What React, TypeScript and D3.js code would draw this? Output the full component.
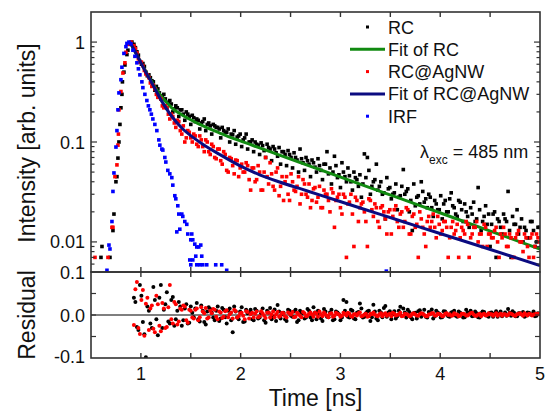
import * as d3 from "d3";
import { useEffect, useRef } from "react";

// time channels (ns), odd and even, shared by decays and residuals
const decayTime = [
	0.93, 0.96, 0.99, 1.02, 1.05, 1.08, 1.11, 1.14, 1.17, 1.2,
	1.23, 1.26, 1.29, 1.32, 1.35, 1.38, 1.41, 1.44, 1.47, 1.5,
	1.53, 1.56, 1.59, 1.62, 1.65, 1.68, 1.71, 1.74, 1.77, 1.8,
	1.83, 1.86, 1.89, 1.92, 1.95, 1.98, 2.01, 2.04, 2.07, 2.1,
	2.13, 2.16, 2.19, 2.22, 2.25, 2.28, 2.31, 2.34, 2.37, 2.4,
	2.43, 2.46, 2.49, 2.52, 2.55, 2.58, 2.61, 2.64, 2.67, 2.7,
	2.73, 2.76, 2.79, 2.82, 2.85, 2.88, 2.91, 2.94, 2.97, 3.0,
	3.03, 3.06, 3.09, 3.12, 3.15, 3.18, 3.21, 3.24, 3.27, 3.3,
	3.33, 3.36, 3.39, 3.42, 3.45, 3.48, 3.51, 3.54, 3.57, 3.6,
	3.63, 3.66, 3.69, 3.72, 3.75, 3.78, 3.81, 3.84, 3.87, 3.9,
	3.93, 3.96, 3.99, 4.02, 4.05, 4.08, 4.11, 4.14, 4.17, 4.2,
	4.23, 4.26, 4.29, 4.32, 4.35, 4.38, 4.41, 4.44, 4.47, 4.5,
	4.53, 4.56, 4.59, 4.62, 4.65, 4.68, 4.71, 4.74, 4.77, 4.8,
	4.83, 4.86, 4.89, 4.92, 4.95, 4.98
];
const decayTimeB = [
	0.945, 0.975, 1.005, 1.035, 1.065, 1.095, 1.125, 1.155, 1.185, 1.215,
	1.245, 1.275, 1.305, 1.335, 1.365, 1.395, 1.425, 1.455, 1.485, 1.515,
	1.545, 1.575, 1.605, 1.635, 1.665, 1.695, 1.725, 1.755, 1.785, 1.815,
	1.845, 1.875, 1.905, 1.935, 1.965, 1.995, 2.025, 2.055, 2.085, 2.115,
	2.145, 2.175, 2.205, 2.235, 2.265, 2.295, 2.325, 2.355, 2.385, 2.415,
	2.445, 2.475, 2.505, 2.535, 2.565, 2.595, 2.625, 2.655, 2.685, 2.715,
	2.745, 2.775, 2.805, 2.835, 2.865, 2.895, 2.925, 2.955, 2.985, 3.015,
	3.045, 3.075, 3.105, 3.135, 3.165, 3.195, 3.225, 3.255, 3.285, 3.315,
	3.345, 3.375, 3.405, 3.435, 3.465, 3.495, 3.525, 3.555, 3.585, 3.615,
	3.645, 3.675, 3.705, 3.735, 3.765, 3.795, 3.825, 3.855, 3.885, 3.915,
	3.945, 3.975, 4.005, 4.035, 4.065, 4.095, 4.125, 4.155, 4.185, 4.215,
	4.245, 4.275, 4.305, 4.335, 4.365, 4.395, 4.425, 4.455, 4.485, 4.515,
	4.545, 4.575, 4.605, 4.635, 4.665, 4.695, 4.725, 4.755, 4.785, 4.815,
	4.845, 4.875, 4.905, 4.935, 4.965, 4.995
];

// RC (black)
const rcRiseTime = [0.6, 0.61, 0.69, 0.72, 0.73, 0.75, 0.76, 0.77, 0.78, 0.79, 0.8, 0.81, 0.815, 0.83, 0.84, 0.86, 0.87, 0.89, 0.91];
const rcRiseValue = [0.007, 0.009, 0.007, 0.013, 0.019, 0.04, 0.045, 0.069, 0.1, 0.15, 0.22, 0.3, 0.4, 0.5, 0.59, 0.75, 0.83, 0.95, 1.0];
const rcValue = [
	0.95, 0.8, 0.64, 0.61, 0.5, 0.47, 0.41, 0.33, 0.34, 0.27,
	0.3, 0.22, 0.26, 0.2, 0.23, 0.18, 0.21, 0.165, 0.19, 0.15,
	0.175, 0.17, 0.135, 0.16, 0.13, 0.155, 0.12, 0.145, 0.14, 0.11,
	0.13, 0.125, 0.1, 0.118, 0.095, 0.115, 0.09, 0.11, 0.085, 0.1,
	0.08, 0.095, 0.075, 0.092, 0.07, 0.088, 0.065, 0.085, 0.072, 0.06,
	0.08, 0.058, 0.075, 0.055, 0.07, 0.05, 0.068, 0.052, 0.065, 0.045,
	0.062, 0.05, 0.058, 0.042, 0.06, 0.048, 0.038, 0.072, 0.044, 0.035,
	0.05, 0.04, 0.046, 0.033, 0.044, 0.036, 0.028, 0.076, 0.07, 0.03,
	0.04, 0.06, 0.036, 0.03, 0.017, 0.034, 0.027, 0.031, 0.021, 0.029,
	0.053, 0.032, 0.02, 0.013, 0.023, 0.029, 0.04, 0.025, 0.022, 0.028,
	0.018, 0.024, 0.021, 0.017, 0.026, 0.02, 0.031, 0.022, 0.018, 0.025,
	0.016, 0.02, 0.014, 0.019, 0.016, 0.035, 0.013, 0.018, 0.015, 0.009,
	0.019, 0.007, 0.016, 0.012, 0.017, 0.032, 0.007, 0.015, 0.021, 0.014,
	0.01, 0.013, 0.011, 0.016, 0.009, 0.014
];
const rcValueB = [
	0.88, 0.74, 0.6, 0.57, 0.46, 0.44, 0.4, 0.36, 0.31, 0.29,
	0.27, 0.25, 0.24, 0.215, 0.22, 0.21, 0.19, 0.2, 0.18, 0.185,
	0.16, 0.165, 0.155, 0.17, 0.15, 0.145, 0.15, 0.14, 0.135, 0.14,
	0.125, 0.135, 0.12, 0.13, 0.112, 0.12, 0.105, 0.12, 0.1, 0.105,
	0.1, 0.093, 0.098, 0.082, 0.095, 0.085, 0.09, 0.078, 0.088, 0.08,
	0.075, 0.082, 0.07, 0.078, 0.066, 0.085, 0.062, 0.07, 0.06, 0.066,
	0.056, 0.068, 0.052, 0.06, 0.08, 0.055, 0.05, 0.058, 0.047, 0.062,
	0.045, 0.055, 0.04, 0.05, 0.042, 0.047, 0.038, 0.044, 0.052, 0.036,
	0.042, 0.033, 0.04, 0.031, 0.044, 0.035, 0.03, 0.038, 0.028, 0.036,
	0.03, 0.034, 0.026, 0.038, 0.028, 0.024, 0.032, 0.027, 0.03, 0.022,
	0.026, 0.021, 0.029, 0.024, 0.02, 0.027, 0.023, 0.019, 0.026, 0.021,
	0.024, 0.018, 0.022, 0.025, 0.017, 0.021, 0.016, 0.023, 0.019, 0.015,
	0.02, 0.017, 0.014, 0.019, 0.016, 0.013, 0.018, 0.015, 0.012, 0.017,
	0.014, 0.011, 0.016, 0.013, 0.01, 0.014
];

// RC@AgNW (red)
const agRiseTime = [0.54, 0.67, 0.71, 0.72, 0.74, 0.76, 0.77, 0.775, 0.78, 0.8, 0.82, 0.84, 0.85, 0.87, 0.9];
const agRiseValue = [0.007, 0.007, 0.014, 0.014, 0.045, 0.059, 0.093, 0.12, 0.21, 0.32, 0.49, 0.62, 0.79, 0.95, 1.0];
const agValue = [
	0.92, 0.78, 0.63, 0.58, 0.48, 0.44, 0.36, 0.34, 0.28, 0.27,
	0.22, 0.22, 0.17, 0.18, 0.14, 0.16, 0.12, 0.1, 0.13, 0.11,
	0.12, 0.095, 0.115, 0.09, 0.105, 0.08, 0.095, 0.07, 0.085, 0.065,
	0.08, 0.052, 0.07, 0.058, 0.066, 0.045, 0.06, 0.05, 0.058, 0.033,
	0.055, 0.042, 0.05, 0.033, 0.07, 0.038, 0.048, 0.033, 0.055, 0.036,
	0.026, 0.045, 0.026, 0.04, 0.032, 0.045, 0.03, 0.038, 0.028, 0.022,
	0.034, 0.025, 0.036, 0.022, 0.03, 0.026, 0.034, 0.014, 0.028, 0.022,
	0.03, 0.007, 0.025, 0.019, 0.028, 0.016, 0.024, 0.02, 0.009, 0.026,
	0.018, 0.022, 0.014, 0.023, 0.017, 0.02, 0.012, 0.021, 0.016, 0.019,
	0.014, 0.022, 0.012, 0.018, 0.014, 0.007, 0.017, 0.012, 0.016, 0.014,
	0.019, 0.011, 0.015, 0.013, 0.016, 0.007, 0.014, 0.012, 0.015, 0.011,
	0.013, 0.016, 0.007, 0.012, 0.014, 0.01, 0.012, 0.015, 0.009, 0.012,
	0.011, 0.014, 0.007, 0.011, 0.012, 0.009, 0.011, 0.007, 0.012, 0.01,
	0.008, 0.011, 0.007, 0.012, 0.009, 0.011
];
const agValueB = [
	0.86, 0.68, 0.63, 0.52, 0.47, 0.39, 0.37, 0.3, 0.28, 0.23,
	0.23, 0.19, 0.19, 0.155, 0.165, 0.13, 0.145, 0.11, 0.125, 0.1,
	0.115, 0.09, 0.105, 0.08, 0.1, 0.075, 0.09, 0.068, 0.085, 0.06,
	0.075, 0.05, 0.068, 0.048, 0.065, 0.055, 0.05, 0.062, 0.042, 0.055,
	0.04, 0.058, 0.033, 0.05, 0.045, 0.062, 0.036, 0.05, 0.029, 0.045,
	0.04, 0.03, 0.048, 0.033, 0.036, 0.024, 0.042, 0.03, 0.038, 0.026,
	0.035, 0.028, 0.022, 0.033, 0.03, 0.02, 0.031, 0.026, 0.03, 0.019,
	0.028, 0.024, 0.03, 0.009, 0.026, 0.022, 0.025, 0.016, 0.027, 0.021,
	0.024, 0.016, 0.022, 0.02, 0.012, 0.021, 0.018, 0.023, 0.014, 0.02,
	0.016, 0.021, 0.012, 0.019, 0.015, 0.02, 0.014, 0.009, 0.018, 0.016,
	0.014, 0.018, 0.012, 0.016, 0.014, 0.011, 0.016, 0.013, 0.007, 0.014,
	0.012, 0.015, 0.011, 0.014, 0.016, 0.012, 0.009, 0.014, 0.012, 0.011,
	0.013, 0.01, 0.012, 0.014, 0.009, 0.012, 0.007, 0.011, 0.013, 0.01,
	0.012, 0.009, 0.011, 0.007, 0.012, 0.01
];

// instrument response (blue)
const irfTime = [
	0.66, 0.68, 0.69, 0.71, 0.72, 0.73, 0.75, 0.76, 0.77, 0.78, 0.8, 0.81, 0.83, 0.85, 0.86, 0.88,
	0.9, 0.92, 0.94, 0.96, 0.975, 0.99, 1.01, 1.02, 1.04, 1.06, 1.075, 1.09, 1.105, 1.12, 1.14,
	1.16, 1.18, 1.19, 1.21, 1.22, 1.24, 1.25, 1.27, 1.29, 1.31, 1.32, 1.34, 1.35, 1.37, 1.38,
	1.41, 1.42, 1.44, 1.46, 1.36, 1.39, 1.47, 1.5, 1.51, 1.52, 1.54, 1.56, 1.58, 1.6, 1.61,
	1.49, 1.52, 1.55, 1.5, 1.56, 1.59, 1.62, 1.66, 1.75, 1.81, 1.86, 3.46
];
const irfValue = [
	0.0052, 0.0093, 0.0085, 0.016, 0.032, 0.049, 0.089, 0.13, 0.21, 0.31, 0.42, 0.56, 0.77, 0.9, 0.97, 1.0,
	0.96, 0.83, 0.72, 0.62, 0.54, 0.47, 0.4, 0.35, 0.3, 0.26, 0.23, 0.21, 0.19, 0.17, 0.15,
	0.13, 0.105, 0.093, 0.085, 0.083, 0.07, 0.063, 0.052, 0.048, 0.044, 0.037, 0.029, 0.027, 0.023, 0.019,
	0.019, 0.018, 0.016, 0.015, 0.0126, 0.0134, 0.012, 0.0105, 0.012, 0.0105, 0.0095, 0.0089, 0.0089, 0.0093, 0.0072,
	0.0066, 0.0066, 0.0072, 0.0059, 0.0059, 0.0059, 0.0059, 0.0059, 0.0059, 0.0059, 0.0052, 0.0051
];

// fitted curves
const fitRcTime = [0.89, 0.97, 1.04, 1.11, 1.17, 1.24, 1.31, 1.44, 1.59, 1.79, 1.99, 2.19, 2.39, 2.59, 2.79, 3.19, 3.59, 3.99, 4.44, 5.0];
const fitRcValue = [1.0, 0.71, 0.53, 0.4, 0.32, 0.26, 0.22, 0.18, 0.15, 0.123, 0.103, 0.0873, 0.074, 0.0627, 0.0531, 0.0381, 0.0274, 0.0197, 0.0135, 0.0085];
const fitAgTime = [0.89, 0.97, 1.04, 1.11, 1.21, 1.31, 1.41, 1.54, 1.62, 1.79, 1.99, 2.19, 2.39, 2.59, 2.79, 3.19, 3.59, 3.99, 4.44, 5.0];
const fitAgValue = [1.0, 0.71, 0.52, 0.39, 0.255, 0.18, 0.138, 0.108, 0.095, 0.075, 0.058, 0.047, 0.0398, 0.0343, 0.0296, 0.022, 0.0164, 0.0122, 0.0088, 0.0058];

// residuals
const residualRc = [
	0.04, -0.028, 0.07, -0.016, -0.098, 0.01, -0.03, 0.035, -0.047, 0.07,
	0.012, 0.053, -0.02, 0.042, -0.01, 0.03, -0.025, 0.015, -0.02, 0.02,
	-0.005, 0.028, -0.015, 0.01, -0.022, 0.018, 0.005, -0.012, 0.02, -0.008,
	0.012, -0.02, 0.015, -0.04, 0.008, -0.01, 0.018, -0.015, 0.004, 0.012,
	-0.012, 0.01, -0.006, 0.015, -0.018, 0.006, -0.01, 0.013, 0.023, -0.008,
	0.005, -0.014, 0.01, -0.004, 0.012, -0.012, 0.006, -0.008, 0.014, -0.006,
	0.018, -0.01, 0.004, -0.014, 0.008, -0.005, 0.012, -0.01, 0.006, -0.012,
	0.035, 0.03, -0.006, 0.01, -0.01, 0.007, 0.015, -0.004, 0.008, -0.014,
	0.024, -0.008, 0.01, -0.005, 0.021, 0.006, -0.01, 0.009, -0.003, 0.019,
	0.015, -0.006, 0.007, -0.01, 0.005, 0.009, -0.004, 0.012, -0.006, 0.006,
	-0.008, 0.01, 0.003, -0.005, 0.008, -0.003, 0.006, 0.01, -0.004, 0.005,
	-0.006, 0.012, 0.002, -0.003, 0.008, -0.005, 0.004, 0.007, -0.002, 0.005,
	-0.004, 0.009, 0.003, -0.003, 0.006, 0.014, -0.002, 0.005, -0.003, 0.004,
	0.007, -0.002, 0.005, 0.002, -0.003, 0.004
];
const residualRcB = [
	0.03, -0.035, 0.045, -0.045, 0.02, -0.02, 0.065, -0.01, 0.04, -0.03,
	0.025, -0.015, 0.035, -0.025, 0.01, 0.02, -0.012, 0.025, -0.018, 0.005,
	0.015, -0.01, 0.022, -0.016, 0.008, 0.014, -0.006, 0.01, -0.014, 0.016,
	-0.005, 0.01, -0.012, 0.02, -0.006, 0.008, -0.016, 0.012, 0.006, -0.01,
	0.014, -0.008, 0.004, -0.012, 0.01, 0.016, -0.004, -0.014, 0.008, 0.002,
	-0.01, 0.012, -0.002, 0.008, -0.016, 0.01, 0.004, -0.006, 0.01, -0.012,
	0.006, 0.01, -0.008, 0.014, -0.004, 0.006, -0.012, 0.008, 0.002, -0.006,
	0.01, -0.004, 0.012, -0.008, 0.005, 0.027, -0.006, 0.004, 0.01, -0.005,
	0.008, -0.012, 0.006, 0.016, -0.004, 0.009, 0.002, -0.008, 0.01, -0.002,
	0.006, 0.012, -0.005, 0.004, -0.008, 0.011, 0.003, -0.004, 0.007, 0.013,
	-0.003, 0.006, -0.006, 0.009, 0.002, -0.004, 0.007, -0.002, 0.008, 0.003,
	-0.005, 0.006, 0.01, -0.002, 0.004, -0.006, 0.008, 0.001, -0.004, 0.006,
	0.003, -0.004, 0.008, 0.001, -0.002, 0.005, 0.009, -0.003, 0.004, 0.002,
	-0.004, 0.006, 0.001, 0.008, -0.002, 0.003
];
const residualAg = [
	-0.023, 0.077, -0.044, 0.058, 0.026, -0.035, 0.022, -0.04, 0.025, -0.038,
	0.015, -0.028, 0.07, -0.02, 0.025, -0.015, 0.012, 0.02, -0.018, 0.01,
	-0.008, 0.015, -0.005, 0.008, 0.016, -0.006, 0.004, 0.012, -0.01, 0.006,
	-0.004, 0.011, 0.002, -0.008, 0.009, -0.003, 0.005, -0.01, 0.007, 0.002,
	-0.006, 0.008, -0.003, 0.004, -0.007, 0.006, 0.001, -0.005, 0.007, -0.002,
	0.004, -0.006, 0.003, 0.007, -0.004, 0.002, -0.005, 0.004, -0.002, 0.006,
	-0.004, 0.003, 0.008, -0.003, 0.002, -0.005, 0.004, -0.002, 0.003, -0.004,
	0.005, -0.001, 0.003, -0.004, 0.002, 0.004, -0.003, 0.001, -0.004, 0.003,
	0.006, -0.002, 0.002, -0.003, 0.004, 0.001, -0.003, 0.003, 0, 0.005,
	-0.002, 0.002, -0.003, 0.003, 0.001, -0.002, 0.004, 0, -0.003, 0.002,
	0.004, -0.001, 0.002, -0.003, 0.003, 0, -0.002, 0.004, 0.001, -0.002,
	0.003, -0.001, 0.002, 0.005, -0.002, 0.001, -0.003, 0.003, 0, 0.002,
	-0.002, 0.004, 0.001, -0.002, 0.002, 0, 0.003, -0.001, 0.002, 0.004,
	-0.002, 0.001, 0.003, -0.001, 0.002, 0.003
];
const residualAgB = [
	0.06, -0.03, 0.035, -0.048, 0.04, 0.015, -0.032, 0.045, -0.025, 0.028,
	-0.03, 0.018, -0.01, 0.03, -0.022, 0.015, 0.022, -0.012, 0.012, -0.006,
	0.012, -0.012, 0.018, 0.004, -0.008, 0.01, 0.014, -0.004, 0.008, -0.007,
	0.009, -0.005, 0.006, 0.012, -0.006, 0.004, -0.002, 0.009, -0.008, 0.005,
	0.003, -0.005, 0.009, -0.002, 0.005, -0.006, 0.008, 0.002, -0.004, 0.005,
	-0.003, 0.006, 0.001, -0.005, 0.005, -0.002, 0.007, -0.003, 0.003, 0.001,
	0.005, -0.004, 0.002, 0.006, -0.002, 0.003, -0.004, 0.005, 0.001, -0.002,
	0.003, 0.005, -0.003, 0.002, -0.001, 0.006, -0.002, 0.003, -0.003, 0.002,
	0.001, -0.003, 0.004, 0.002, -0.002, 0.003, 0.005, -0.001, 0.002, -0.003,
	0.003, 0.001, -0.002, 0.004, -0.001, 0.002, 0.003, -0.003, 0.001, 0.004,
	-0.001, 0.003, 0.001, -0.002, 0.004, 0.002, -0.001, 0.002, -0.003, 0.003,
	0.002, -0.001, 0.004, 0.001, -0.002, 0.003, 0.001, -0.001, 0.004, 0.002,
	0.001, -0.002, 0.003, 0.002, -0.001, 0.004, 0.001, -0.002, 0.003, 0.001,
	0.004, -0.001, 0.002, 0.001, 0.003, 0.002
];

const xTickLabels = [1, 2, 3, 4, 5];
const yTickLabels = [1, 0.1, 0.01];
const residualTickLabels = [0.1, 0.0, -0.1];
const legendLabels = ["RC", "Fit of RC", "RC@AgNW", "Fit of RC@AgNW", "IRF"];
const legendKinds = ["dot", "line", "dot", "line", "dot"];
const legendColors = ["#000000", "#118a11", "#ff0000", "#0b0b80", "#0000ff"];

const FONT = "'Liberation Sans', Arial, Helvetica, sans-serif";
const AXIS = "#333333";

function DecayChart() {
	const ref = useRef(null);

	useEffect(() => {
		const svg = d3.select(ref.current);
		svg.selectAll("*").remove();

		const left = 91, right = 540, top = 12, mid = 272, bottom = 358;
		const x = d3.scaleLinear().domain([0.5, 5]).range([left, right]);
		const y = d3.scaleLog().domain([0.005, 2]).range([mid, top]);
		const yr = d3.scaleLinear().domain([-0.1, 0.1]).range([bottom, mid]);

		const defs = svg.append("defs");
		defs.append("clipPath").attr("id", "clip-main").append("rect")
			.attr("x", left).attr("y", top).attr("width", right - left).attr("height", mid - top);
		defs.append("clipPath").attr("id", "clip-res").append("rect")
			.attr("x", left).attr("y", mid).attr("width", right - left).attr("height", bottom - mid);

		const zip = (ts, vs) => ts.map((t, i) => [t, vs[i]]);
		const rcPts = zip(rcRiseTime, rcRiseValue)
			.concat(zip(decayTime, rcValue))
			.concat(zip(decayTimeB, rcValueB));
		const agPts = zip(agRiseTime, agRiseValue)
			.concat(zip(decayTime, agValue))
			.concat(zip(decayTimeB, agValueB));
		const irfPts = zip(irfTime, irfValue);

		const main = svg.append("g").attr("clip-path", "url(#clip-main)");
		const sq = 3.6;
		const squares = (pts, color) => {
			main.append("g").selectAll("rect")
				.data(pts)
				.enter()
				.append("rect")
				.attr("x", (d) => x(d[0]) - sq / 2)
				.attr("y", (d) => y(d[1]) - sq / 2)
				.attr("width", sq)
				.attr("height", sq)
				.attr("fill", color);
		};
		const line = d3.line()
			.x((d) => x(d[0]))
			.y((d) => y(d[1]))
			.curve(d3.curveMonotoneX);
		const fit = (pts, color) => {
			main.append("path")
				.attr("d", line(pts))
				.attr("fill", "none")
				.attr("stroke", color)
				.attr("stroke-width", 3);
		};

		squares(rcPts, legendColors[0]);
		fit(zip(fitRcTime, fitRcValue), legendColors[1]);
		squares(agPts, legendColors[2]);
		fit(zip(fitAgTime, fitAgValue), legendColors[3]);
		squares(irfPts, legendColors[4]);

		// residual panel
		svg.append("line")
			.attr("x1", left).attr("x2", right)
			.attr("y1", yr(0)).attr("y2", yr(0))
			.attr("stroke", "#000").attr("stroke-width", 1.2);
		const res = svg.append("g").attr("clip-path", "url(#clip-res)");
		const dots = (ts, vals, color) => {
			res.append("g").selectAll("circle")
				.data(zip(ts, vals))
				.enter()
				.append("circle")
				.attr("cx", (d) => x(d[0]))
				.attr("cy", (d) => yr(d[1]))
				.attr("r", 2)
				.attr("fill", color);
		};
		dots(decayTime, residualRc, "#000000");
		dots(decayTimeB, residualRcB, "#000000");
		dots(decayTime, residualAg, "#ff0000");
		dots(decayTimeB, residualAgB, "#ff0000");

		// frames
		const axes = svg.append("g").attr("stroke", AXIS).attr("fill", "none");
		axes.append("rect").attr("x", left).attr("y", top).attr("width", right - left).attr("height", mid - top).attr("stroke-width", 1.6);
		axes.append("rect").attr("x", left).attr("y", mid).attr("width", right - left).attr("height", bottom - mid).attr("stroke-width", 1.6);

		// x ticks (every 0.5 ns)
		const tk = 5;
		x.ticks(10).filter((t) => t > 0.5 && t < 5).forEach((t) => {
			const px = x(t);
			axes.append("line").attr("x1", px).attr("x2", px).attr("y1", top).attr("y2", top + tk).attr("stroke-width", 1.4);
			axes.append("line").attr("x1", px).attr("x2", px).attr("y1", mid - tk).attr("y2", mid + tk).attr("stroke-width", 1.4);
			axes.append("line").attr("x1", px).attr("x2", px).attr("y1", bottom - tk).attr("y2", bottom).attr("stroke-width", 1.4);
		});

		// log y ticks
		y.ticks().filter((v) => v > 0.005 && v < 2).forEach((v) => {
			const py = y(v);
			const major = Math.abs(Math.log10(v) - Math.round(Math.log10(v))) < 1e-6;
			const len = major ? 6 : 3.5;
			axes.append("line").attr("x1", left).attr("x2", left + len).attr("y1", py).attr("y2", py).attr("stroke-width", 1.2);
			axes.append("line").attr("x1", right - len).attr("x2", right).attr("y1", py).attr("y2", py).attr("stroke-width", 1.2);
		});

		// residual y ticks
		yr.ticks(4).filter((v) => v > -0.1 && v < 0.1).forEach((v) => {
			const py = yr(v);
			axes.append("line").attr("x1", left).attr("x2", left + tk).attr("y1", py).attr("y2", py).attr("stroke-width", 1.2);
			axes.append("line").attr("x1", right - tk).attr("x2", right).attr("y1", py).attr("y2", py).attr("stroke-width", 1.2);
		});

		const text = svg.append("g").attr("font-family", FONT).attr("fill", "#111");

		xTickLabels.forEach((t) => {
			text.append("text").attr("x", x(t)).attr("y", 380)
				.attr("text-anchor", "middle").attr("font-size", 18).text(t);
		});
		yTickLabels.forEach((v) => {
			text.append("text").attr("x", 85).attr("y", y(v) + 6.5)
				.attr("text-anchor", "end").attr("font-size", 18).text(String(v));
		});
		residualTickLabels.forEach((v) => {
			const py = Math.min(yr(v), 356);
			text.append("text").attr("x", 85).attr("y", py + 6.5)
				.attr("text-anchor", "end").attr("font-size", 18).text(v.toFixed(1));
		});

		text.append("text")
			.attr("transform", "translate(35,143) rotate(-90)")
			.attr("text-anchor", "middle").attr("font-size", 23)
			.text("Intensity [arb. units]");
		text.append("text")
			.attr("transform", "translate(35,315) rotate(-90)")
			.attr("text-anchor", "middle").attr("font-size", 23)
			.text("Residual");
		text.append("text")
			.attr("x", (left + right) / 2).attr("y", 406)
			.attr("text-anchor", "middle").attr("font-size", 23)
			.text("Time [ns]");

		// legend
		const legend = svg.append("g").attr("font-family", FONT);
		legendLabels.forEach((label, i) => {
			const cy = 27 + i * 22.3;
			if (legendKinds[i] === "line") {
				legend.append("line").attr("x1", 350).attr("x2", 385).attr("y1", cy).attr("y2", cy)
					.attr("stroke", legendColors[i]).attr("stroke-width", 3);
			} else {
				legend.append("rect").attr("x", 366).attr("y", cy - 1.5).attr("width", 3).attr("height", 3)
					.attr("fill", legendColors[i]);
			}
			legend.append("text").attr("x", 388).attr("y", cy + 6.5)
				.attr("font-size", 18).attr("fill", "#111").text(label);
		});

		// excitation wavelength
		const lam = text.append("text").attr("x", 420).attr("y", 158).attr("font-size", 18);
		lam.append("tspan").text("λ");
		lam.append("tspan").attr("font-size", 12).attr("dy", 6).text("exc");
		lam.append("tspan").attr("dy", -6).text(" = 485 nm");
	}, []);

	return (
		<svg
			ref={ref}
			width={549}
			height={415}
			style={{ position: "absolute", left: 0, top: 0, background: "#fff" }}
		/>
	);
}

export default function App() {
	return <DecayChart />;
}
